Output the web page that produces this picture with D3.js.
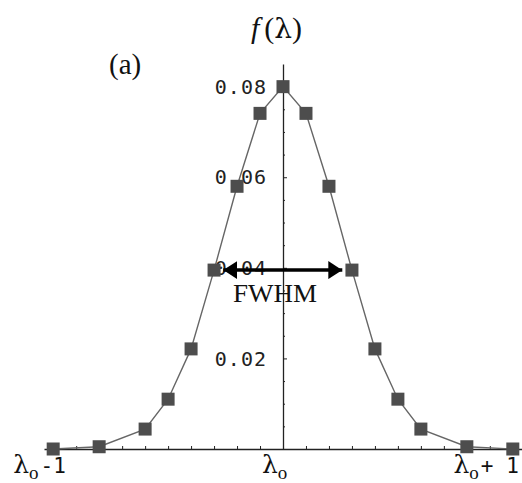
<!DOCTYPE html>
<html>
<head>
<meta charset="utf-8">
<script src="https://cdn.jsdelivr.net/npm/d3@7"></script>
<style>
  body { margin: 0; background: #fff; }
  svg { display: block; }
</style>
</head>
<body>
<div id="chart"></div>
<script>
  // wavelength offsets (units of the spacing, lambda_o +/- 1) and f(lambda)
  const offsets = [-1, -0.8, -0.6, -0.5, -0.4, -0.3, -0.2, -0.1, 0, 0.1, 0.2, 0.3, 0.4, 0.5, 0.6, 0.8, 1];
  const fValues = [0, 0.0005, 0.0044, 0.011, 0.0221, 0.0395, 0.058, 0.0741, 0.08,
                   0.0741, 0.058, 0.0395, 0.0221, 0.011, 0.0044, 0.0005, 0];
  const yTickLabels = [0.02, 0.04, 0.06, 0.08];
  const xTickLabels = [
    { v: -1, tail: "-1", anchor: "start", dx: -40 },
    { v: 0, tail: "", anchor: "start", dx: -21 },
    { v: 1, tail: "+ 1", anchor: "end", dx: 6 },
  ];
  const fwhm = { left: -0.26, right: 0.258, level: 0.0395 };

  const width = 522;
  const height = 483;

  const svg = d3.select("#chart").append("svg").attr("width", width).attr("height", height);

  const x = d3.scaleLinear().domain([-1.04, 1.04]).range([44, 522]);
  const y = d3.scaleLinear().domain([0, 0.085]).range([449, 64]);

  const points = offsets.map((o, i) => ({ x: o, y: fValues[i] }));

  // x axis, small ticks pointing up
  const xMinor = d3.range(-10, 11).map(d => d / 10);
  svg.append("g")
    .attr("transform", `translate(0, ${y(0)})`)
    .call(d3.axisTop(x).tickValues(xMinor).tickSize(3).tickSizeOuter(0).tickFormat(""))
    .call(g => g.select(".domain").attr("stroke", "#222").attr("stroke-width", 1.3))
    .call(g => g.selectAll(".tick line").attr("stroke", "#222"));

  // y axis, ticks to the right
  const yMinor = d3.range(1, 17).map(d => d * 0.005);
  svg.append("g")
    .attr("transform", `translate(${x(0)}, 0)`)
    .call(d3.axisRight(y).tickValues(yMinor).tickSize(2).tickSizeOuter(0).tickFormat(""))
    .call(g => g.select(".domain").attr("stroke", "#222").attr("stroke-width", 1.3))
    .call(g => g.selectAll(".tick line")
      .attr("stroke", "#222")
      .attr("x2", d => (Math.abs(d / 0.02 - Math.round(d / 0.02)) < 1e-6 ? 4 : 2)));

  svg.append("g")
    .selectAll("text")
    .data(yTickLabels)
    .join("text")
    .attr("x", x(0) - 16)
    .attr("y", d => y(d))
    .attr("dy", "0.36em")
    .attr("text-anchor", "end")
    .attr("font-family", "DejaVu Sans Mono")
    .attr("font-size", 20)
    .attr("letter-spacing", 1)
    .attr("fill", "#222")
    .text(d => d.toFixed(2));

  // x tick labels: lambda_o, lambda_o - 1, lambda_o + 1
  const xl = svg.append("g")
    .selectAll("text")
    .data(xTickLabels)
    .join("text")
    .attr("x", d => x(d.v) + d.dx)
    .attr("y", 473)
    .attr("text-anchor", d => d.anchor)
    .attr("fill", "#111");
  xl.append("tspan")
    .attr("font-family", "DejaVu Serif")
    .attr("font-size", 25)
    .text("λ");
  xl.append("tspan")
    .attr("font-family", "Liberation Serif")
    .attr("font-size", 19)
    .attr("dy", 6)
    .text("o");
  xl.append("tspan")
    .attr("font-family", "DejaVu Sans Mono")
    .attr("font-size", 21)
    .attr("dy", -6)
    .attr("dx", 2)
    .text(d => d.tail);

  // curve
  const line = d3.line().x(d => x(d.x)).y(d => y(d.y));
  svg.append("path")
    .datum(points)
    .attr("d", line)
    .attr("fill", "none")
    .attr("stroke", "#666")
    .attr("stroke-width", 1.4);

  const S = 13;
  svg.append("g")
    .selectAll("rect")
    .data(points)
    .join("rect")
    .attr("x", d => x(d.x) - S / 2)
    .attr("y", d => y(d.y) - S / 2)
    .attr("width", S)
    .attr("height", S)
    .attr("fill", "#4d4d4d");

  // FWHM double arrow
  const defs = svg.append("defs");
  defs.append("marker")
    .attr("id", "head")
    .attr("viewBox", "0 0 14 18")
    .attr("refX", 14)
    .attr("refY", 9)
    .attr("markerWidth", 14)
    .attr("markerHeight", 18)
    .attr("markerUnits", "userSpaceOnUse")
    .attr("orient", "auto-start-reverse")
    .append("path")
    .attr("d", "M0,0 L14,9 L0,18 Z")
    .attr("fill", "#000");

  svg.append("line")
    .attr("x1", x(fwhm.left))
    .attr("x2", x(fwhm.right))
    .attr("y1", y(fwhm.level))
    .attr("y2", y(fwhm.level))
    .attr("stroke", "#000")
    .attr("stroke-width", 3.5)
    .attr("marker-start", "url(#head)")
    .attr("marker-end", "url(#head)");

  svg.append("text")
    .attr("x", 233)
    .attr("y", 302)
    .attr("font-family", "Liberation Serif")
    .attr("font-size", 25)
    .attr("textLength", 84)
    .attr("lengthAdjust", "spacingAndGlyphs")
    .attr("fill", "#111")
    .text("FWHM");

  // title and panel label
  const title = svg.append("text")
    .attr("x", 251)
    .attr("y", 38)
    .attr("font-family", "Liberation Serif")
    .attr("font-size", 30)
    .attr("fill", "#111");
  title.append("tspan").attr("font-style", "italic").text("f");
  title.append("tspan").attr("dx", 5).text("(");
  title.append("tspan").attr("font-family", "DejaVu Serif").attr("font-size", 28).text("λ");
  title.append("tspan").text(")");

  svg.append("text")
    .attr("x", 109)
    .attr("y", 74)
    .attr("font-family", "Liberation Serif")
    .attr("font-size", 29)
    .attr("fill", "#111")
    .text("(a)");
</script>
</body>
</html>
